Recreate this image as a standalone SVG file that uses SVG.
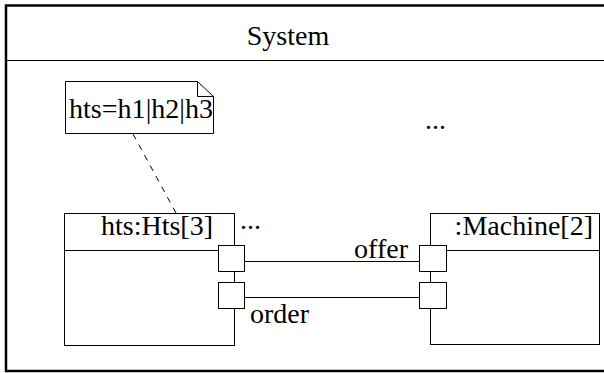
<svg xmlns="http://www.w3.org/2000/svg" width="604" height="373" viewBox="0 0 604 373">
<style>
text{font-family:"Liberation Serif","Times New Roman",serif;font-size:28px;fill:#000}
.box{fill:#fff;stroke:#000;stroke-width:1}
.ln{fill:none;stroke:#000;stroke-width:1}
.port{fill:#fff;stroke:#000;stroke-width:1}
</style>
<rect width="604" height="373" fill="#fff"/>
<g id="system">
<rect x="6" y="5.5" width="620" height="365.5" fill="none" stroke="#000" stroke-width="2.5"/>
<line x1="6" y1="60.5" x2="604" y2="60.5" class="ln"/>
<text x="288" y="45" text-anchor="middle">System</text>
<text x="425" y="129">...</text>
</g>
<g id="connectors">
<line x1="133" y1="134" x2="176" y2="213" class="ln" stroke-dasharray="6,6"/>
<line x1="245" y1="261.5" x2="419" y2="261.5" class="ln"/>
<line x1="245" y1="297.5" x2="419" y2="297.5" class="ln"/>
<text x="408" y="258" text-anchor="end">offer</text>
<text x="250" y="323">order</text>
</g>
<g id="note">
<path d="M65.5,81.5 H197.5 L213.5,96.5 V133.5 H65.5 Z" class="box"/>
<path d="M197.5,81.5 V96.5 H213.5" class="ln"/>
<text x="69" y="118" textLength="144" lengthAdjust="spacingAndGlyphs">hts=h1|h2|h3</text>
</g>
<g id="hts">
<rect x="64.5" y="213.5" width="170" height="132" class="box"/>
<line x1="64.5" y1="250.5" x2="234.5" y2="250.5" class="ln"/>
<text x="213" y="235" text-anchor="end">hts:Hts[3]</text>
<text x="240" y="229">...</text>
<rect x="218.5" y="245.5" width="26" height="26" class="port"/>
<rect x="218.5" y="282.5" width="26" height="26" class="port"/>
</g>
<g id="machine">
<rect x="430.5" y="213.5" width="169" height="131" class="box"/>
<line x1="430.5" y1="250.5" x2="599.5" y2="250.5" class="ln"/>
<text x="593" y="235" text-anchor="end">:Machine[2]</text>
<rect x="419.5" y="245.5" width="27" height="26" class="port"/>
<rect x="419.5" y="282.5" width="27" height="26" class="port"/>
</g>
</svg>
